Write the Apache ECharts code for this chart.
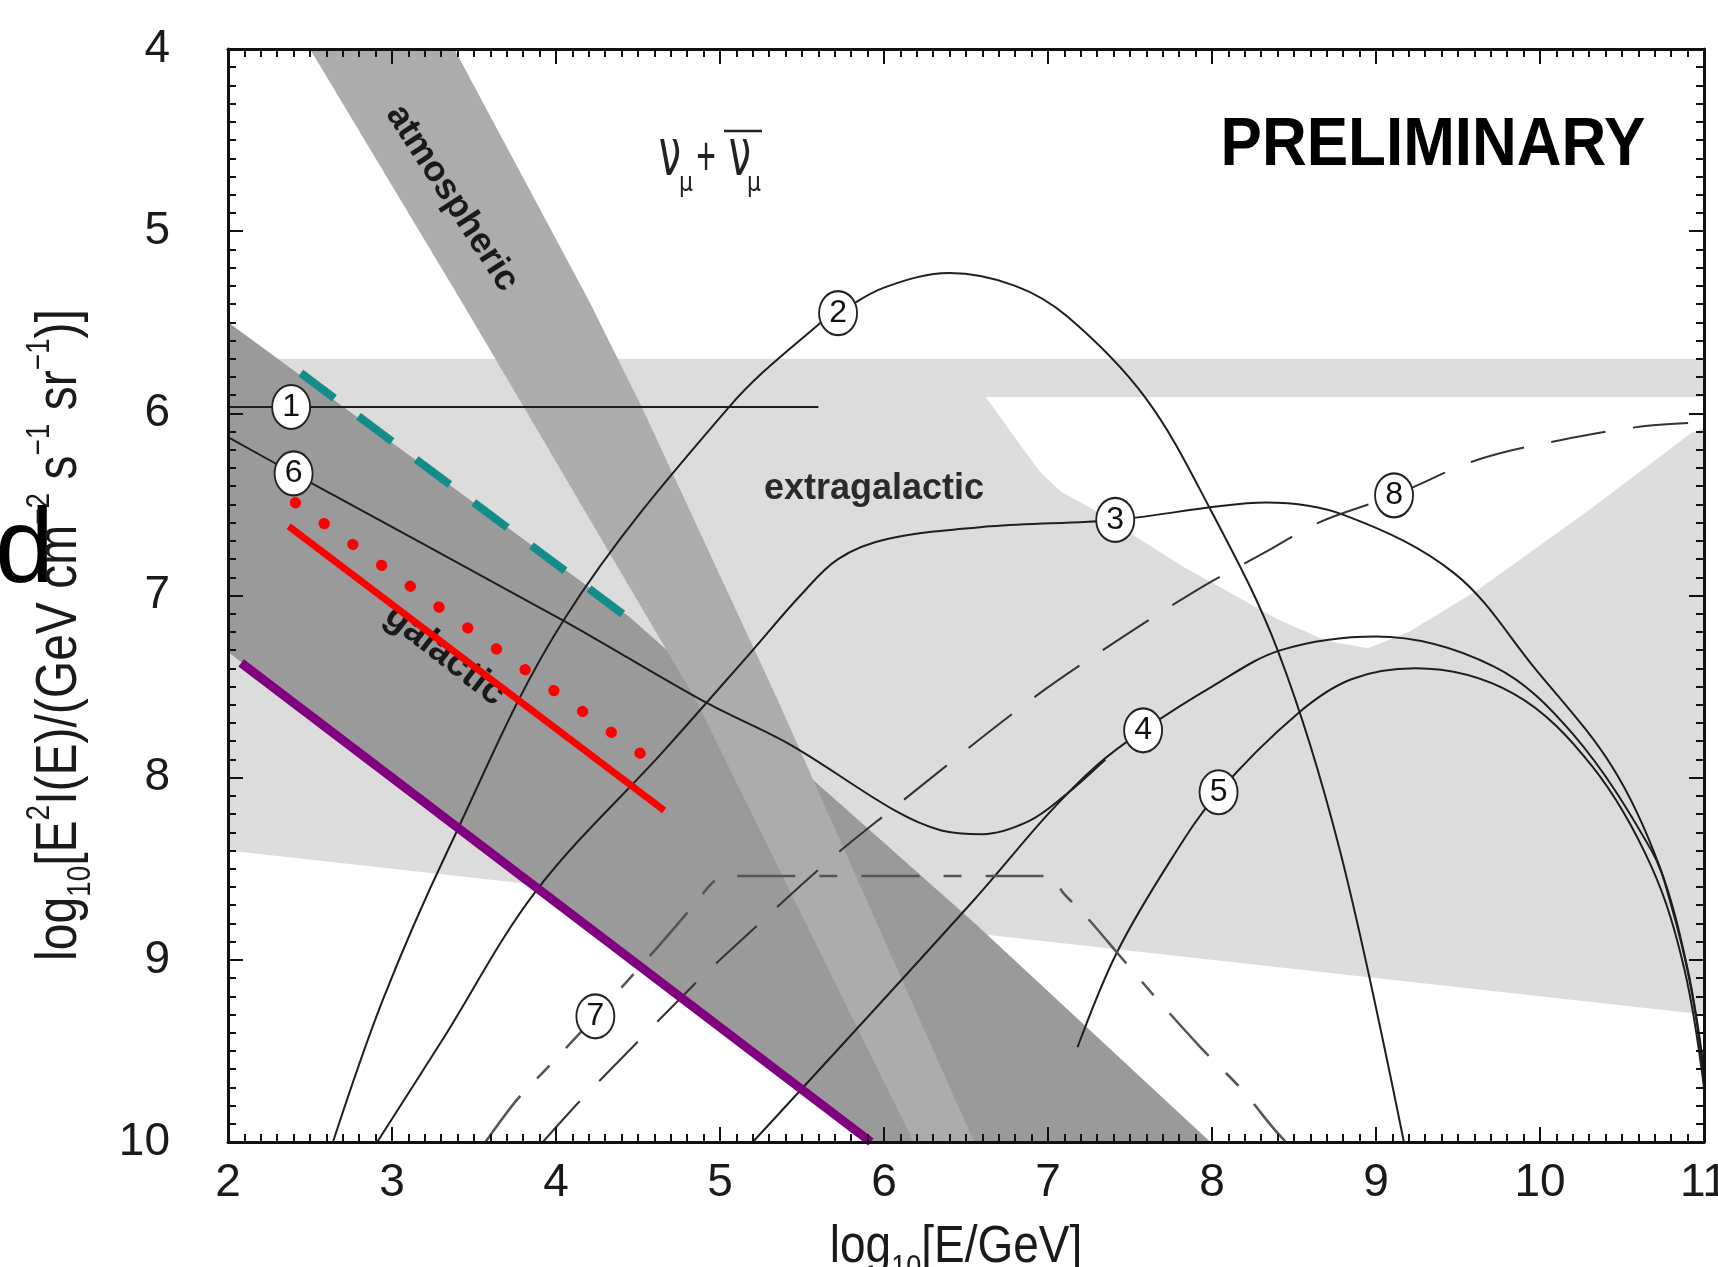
<!DOCTYPE html>
<html><head><meta charset="utf-8">
<script src="https://cdn.jsdelivr.net/npm/echarts@6/dist/echarts.min.js"></script>
<style>html,body{margin:0;padding:0;background:#fff}#c{width:1718px;height:1267px}</style>
</head><body><div id="c"></div>
<script>
// ---------- data (log10 E/GeV , log10 E^2 I) ----------
const xTickValues = [2, 3, 4, 5, 6, 7, 8, 9, 10, 11];
const yTickValues = [4, 5, 6, 7, 8, 9, 10];

// shaded regions
const extragalacticX = [2, 11, 11, 2];
const extragalacticY = [5.70, 5.70, 9.30, 8.40];
const notchX = [6.62, 6.82, 6.95, 7.08, 7.26, 7.82, 8.40, 8.70, 8.95, 9.20, 9.62, 10.30, 10.92, 11.0, 11.0];
const notchY = [5.91, 6.16, 6.32, 6.43, 6.52, 6.84, 7.13, 7.25, 7.29, 7.20, 6.97, 6.53, 6.11, 6.08, 5.91];
const galacticX = [2, 4.45, 6.555, 7.99, 5.92, 2];
const galacticY = [5.50, 7.12, 8.80, 10.0, 10.0, 7.31];
const atmosphericX = [2.50, 3.42, 3.80, 4.85, 6.18, 6.55, 5.35, 4.52, 4.20, 3.38];
const atmosphericY = [4.0, 5.38, 5.96, 7.57, 10.0, 10.0, 7.57, 5.96, 5.38, 4.0];

// model curves
const curve1X = [2.0, 5.60];
const curve1Y = [5.965, 5.965];
const curve2X = [2.64, 2.944, 3.34, 4.05, 5.06, 5.59, 5.72, 6.0, 6.40, 6.8, 7.12, 7.59, 7.98, 8.40, 8.78, 9.17];
const curve2Y = [10.0, 9.22, 8.40, 7.13, 5.96, 5.52, 5.45, 5.31, 5.23, 5.30, 5.47, 5.91, 6.51, 7.30, 8.40, 10.0];
const curve3X = [2.91, 3.30, 3.88, 4.66, 5.18, 5.49, 5.72, 6.02, 6.65, 7.41, 8.04, 8.33, 8.81, 9.48, 9.96, 10.44, 10.73, 10.90, 11.0];
const curve3Y = [10.0, 9.45, 8.62, 7.85, 7.32, 7.00, 6.80, 6.69, 6.62, 6.585, 6.51, 6.49, 6.56, 6.88, 7.39, 7.94, 8.49, 9.05, 9.60];
const curve4X = [5.20, 6.55, 7.00, 7.30, 7.58, 8.00, 8.42, 9.00, 9.72, 10.20, 10.68, 10.80, 10.92, 11.0];
const curve4Y = [10.0, 8.67, 8.20, 7.93, 7.74, 7.50, 7.30, 7.225, 7.39, 7.76, 8.40, 8.70, 9.15, 9.65];
const curve5X = [7.18, 7.42, 7.75, 8.04, 8.52, 8.85, 9.24, 9.84, 10.32, 10.68, 10.88, 11.0];
const curve5Y = [9.48, 8.96, 8.45, 8.08, 7.65, 7.46, 7.40, 7.54, 7.94, 8.49, 9.05, 9.70];
const curve6X = [2.0, 2.40, 4.05, 4.92, 5.43, 6.065, 6.35, 6.60, 6.88, 7.10, 7.35];
const curve6Y = [6.13, 6.33, 7.14, 7.59, 7.82, 8.18, 8.29, 8.31, 8.24, 8.10, 7.90];
const curve7X = [3.57, 3.76, 3.95, 4.24, 4.62, 4.83, 4.95, 5.02, 7.02, 7.09, 7.23, 7.44, 7.63, 7.94, 8.18, 8.37, 8.45];
const curve7Y = [10.0, 9.77, 9.59, 9.31, 8.93, 8.71, 8.58, 8.54, 8.54, 8.63, 8.76, 8.98, 9.18, 9.49, 9.71, 9.92, 10.0];
const curve8X = [3.92, 4.13, 4.27, 4.87, 5.00, 5.645, 6.04, 6.87, 7.30, 7.89, 8.35, 8.65, 9.11, 9.62, 10.13, 10.64, 11.0];
const curve8Y = [10.0, 9.79, 9.66, 9.11, 9.00, 8.47, 8.18, 7.59, 7.32, 6.98, 6.75, 6.60, 6.45, 6.255, 6.146, 6.07, 6.05];

// coloured limit lines
const tealX = [2.444, 4.427];
const tealY = [5.779, 7.115];
const redSolidX = [2.37, 4.66];
const redSolidY = [6.62, 8.18];
const redDotX = [2.41, 4.58];
const redDotY = [6.49, 7.91];
const purpleX = [2.08, 5.92];
const purpleY = [7.37, 10.0];

// circled curve numbers
const labelText = ['1', '2', '3', '4', '5', '6', '7', '8'];
const labelX = [2.385, 5.72, 7.41, 7.58, 8.04, 2.40, 4.24, 9.11];
const labelY = [5.965, 5.45, 6.585, 7.74, 8.08, 6.33, 9.31, 6.45];

// ---------- chart ----------
const SANS = '"Liberation Sans", Arial, Helvetica, sans-serif';
const chart = echarts.init(document.getElementById('c'), null, {renderer: 'canvas', width: 1718, height: 1267});
const zip = (xs, ys) => xs.map((x, i) => [x, ys[i]]);

function band(xs, ys, color) {
  return {
    type: 'custom', coordinateSystem: 'cartesian2d', silent: true, z: 1, animation: false,
    data: [[xs[0], ys[0]]],
    renderItem: (params, api) => ({
      type: 'polygon',
      shape: { points: xs.map((x, i) => api.coord([x, ys[i]])) },
      style: { fill: color, stroke: null }
    })
  };
}
function line(xs, ys, style, smooth, z) {
  return {
    type: 'line', data: zip(xs, ys), symbol: 'none', showSymbol: false, smooth: smooth,
    lineStyle: style, z: z, silent: true, animation: false
  };
}
const black = { color: '#1e1e1e', width: 2 };

function axisCommon(extra) {
  return Object.assign({
    type: 'value', z: 10,
    axisLine: { show: true, onZero: false, lineStyle: { color: '#111', width: 3 } },
    axisTick: { show: true, inside: true, length: 15, lineStyle: { color: '#111', width: 2 } },
    minorTick: { show: true, splitNumber: 10, length: 8, lineStyle: { color: '#111', width: 2 } },
    splitLine: { show: false },
    minorSplitLine: { show: false }
  }, extra);
}

const option = {
  backgroundColor: '#ffffff',
  animation: false,
  grid: { left: 228, right: 14, top: 49, bottom: 125, containLabel: false, outerBoundsMode: 'none' },
  xAxis: [
    axisCommon({ min: xTickValues[0], max: xTickValues[xTickValues.length - 1], interval: 1, position: 'bottom',
      axisLabel: { fontSize: 46, color: '#1a1a1a', margin: 18, fontFamily: SANS } }),
    axisCommon({ min: xTickValues[0], max: xTickValues[xTickValues.length - 1], interval: 1, position: 'top',
      axisLabel: { show: false } })
  ],
  yAxis: [
    axisCommon({ min: yTickValues[0], max: yTickValues[yTickValues.length - 1], interval: 1, inverse: true, position: 'left',
      axisLabel: { fontSize: 46, color: '#1a1a1a', margin: 58, fontFamily: SANS } }),
    axisCommon({ min: yTickValues[0], max: yTickValues[yTickValues.length - 1], interval: 1, inverse: true, position: 'right',
      axisLabel: { show: false } })
  ],
  series: [
    band(extragalacticX, extragalacticY, '#dcdcdc'),
    band(notchX, notchY, '#ffffff'),
    band(galacticX, galacticY, '#9a9a9a'),
    band(atmosphericX, atmosphericY, '#acacac'),
    line(curve1X, curve1Y, black, false, 4),
    line(curve2X, curve2Y, black, 0.35, 4),
    line(curve3X, curve3Y, black, 0.35, 4),
    line(curve4X, curve4Y, black, 0.35, 4),
    line(curve5X, curve5Y, black, 0.35, 4),
    line(curve6X, curve6Y, black, 0.35, 4),
    line(curve7X, curve7Y, { color: '#555', width: 2.5, type: [58, 24, 18, 24] }, 0.3, 4),
    line(curve8X, curve8Y, { color: '#333', width: 2, type: [55, 28] }, 0.35, 4),
    line(tealX, tealY, { color: '#138c8c', width: 8, type: [42, 30] }, false, 5),
    line(redDotX, redDotY, { color: '#ff0000', width: 11, type: [0.5, 35], cap: 'round' }, false, 5),
    line(redSolidX, redSolidY, { color: '#ff0000', width: 7 }, false, 5),
    line(purpleX, purpleY, { color: '#800080', width: 9 }, false, 5),
    {
      type: 'scatter', z: 6, silent: true, animation: false,
      data: labelX.map((x, i) => [x, labelY[i], labelText[i]]),
      symbol: 'circle', symbolSize: [38, 44],
      itemStyle: { color: '#ffffff', borderColor: '#222', borderWidth: 2, opacity: 1 },
      label: { show: true, position: 'inside', formatter: p => p.value[2], fontSize: 32,
               color: '#111', fontFamily: SANS }
    }
  ],
  graphic: [
    { type: 'text', x: 452, y: 198, rotation: -57 * Math.PI / 180, z: 3,
      style: { text: 'atmospheric', fontSize: 36, fontWeight: 'bold', fontFamily: SANS, fill: '#1a1a1a', align: 'center', verticalAlign: 'middle' } },
    { type: 'text', x: 445, y: 655, rotation: -38 * Math.PI / 180, z: 3,
      style: { text: 'galactic', fontSize: 38, fontWeight: 'bold', fontFamily: SANS, fill: '#1a1a1a', align: 'center', verticalAlign: 'middle' } },
    { type: 'text', x: 874, y: 489, z: 3,
      style: { text: 'extragalactic', fontSize: 36, fontWeight: 'bold', fontFamily: SANS, fill: '#2a2a2a', align: 'center', verticalAlign: 'middle' } },
    { type: 'text', x: 1433, y: 146, z: 7, scaleY: 1.1,
      style: { text: 'PRELIMINARY', fontSize: 62, fontWeight: 'bold', fontFamily: SANS, fill: '#000', align: 'center', verticalAlign: 'middle' } },
    // nu_mu + anti-nu_mu
    { type: 'text', x: 670, y: 158, z: 7, scaleX: 0.95, scaleY: 1.55,
      style: { text: 'ν', fontSize: 42, fontFamily: '"DejaVu Sans", sans-serif', fill: '#222', align: 'center', verticalAlign: 'middle' } },
    { type: 'text', x: 686, y: 184, z: 7, scaleY: 1.2,
      style: { text: 'μ', fontSize: 22, fontFamily: '"DejaVu Sans", sans-serif', fill: '#222', align: 'center', verticalAlign: 'middle' } },
    { type: 'text', x: 706, y: 160, z: 7, scaleX: 0.8, scaleY: 1.3,
      style: { text: '+', fontSize: 42, fontFamily: SANS, fill: '#222', align: 'center', verticalAlign: 'middle' } },
    { type: 'text', x: 740, y: 158, z: 7, scaleX: 0.95, scaleY: 1.55,
      style: { text: 'ν', fontSize: 42, fontFamily: '"DejaVu Sans", sans-serif', fill: '#222', align: 'center', verticalAlign: 'middle' } },
    { type: 'text', x: 754, y: 184, z: 7, scaleY: 1.2,
      style: { text: 'μ', fontSize: 22, fontFamily: '"DejaVu Sans", sans-serif', fill: '#222', align: 'center', verticalAlign: 'middle' } },
    { type: 'line', z: 7, shape: { x1: 724, y1: 131, x2: 762, y2: 131 }, style: { stroke: '#222', lineWidth: 2.5 } },
    // stray "d" at left edge
    { type: 'text', x: 54, y: 553, z: 7,
      style: { text: 'd', fontSize: 106, fontFamily: SANS, fill: '#000', align: 'right', verticalAlign: 'middle' } },
    // y-axis title
    { type: 'text', x: 60, y: 635, rotation: Math.PI / 2, scaleY: 1.2, z: 7,
      style: {
        text: '{n|log}{sub|10}{n|[E}{sup|2}{n|I(E)/(GeV cm}{sup|−2}{n| s}{sup|−1}{n| sr}{sup|−1}{n|)]}',
        align: 'center', verticalAlign: 'middle', fill: '#1a1a1a', fontFamily: SANS, fontSize: 48,
        rich: {
          n: { fontSize: 48, fontFamily: SANS, fill: '#1a1a1a', lineHeight: 62 },
          sup: { fontSize: 28, fontFamily: SANS, fill: '#1a1a1a', verticalAlign: 'top', lineHeight: 28 },
          sub: { fontSize: 28, fontFamily: SANS, fill: '#1a1a1a', verticalAlign: 'bottom', lineHeight: 28 }
        }
      } },
    // x-axis title
    { type: 'text', x: 956, y: 1248, scaleY: 1.12, z: 7,
      style: {
        text: '{n|log}{sub|10}{n|[E/GeV]}',
        align: 'center', verticalAlign: 'middle', fill: '#1a1a1a', fontFamily: SANS, fontSize: 46,
        rich: {
          n: { fontSize: 46, fontFamily: SANS, fill: '#1a1a1a', lineHeight: 60 },
          sub: { fontSize: 27, fontFamily: SANS, fill: '#1a1a1a', verticalAlign: 'bottom', lineHeight: 27 }
        }
      } }
  ]
};
chart.setOption(option);
</script>
</body></html>
